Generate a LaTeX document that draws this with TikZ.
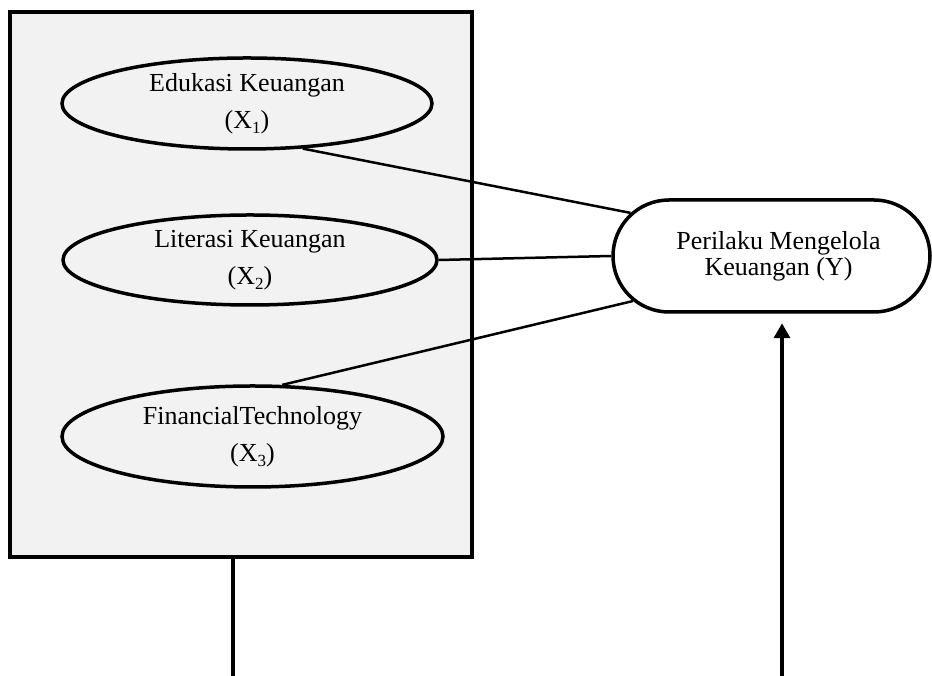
\documentclass[tikz,border=0pt]{standalone}
\usepackage{fontspec}
\setmainfont{Liberation Serif}
\usetikzlibrary{shapes.geometric,shapes.misc,arrows.meta}
\definecolor{panelgray}{HTML}{F2F2F2}
\tikzset{
	panel/.style={draw,line width=3.5pt,fill=panelgray,inner sep=0pt},%
	construct/.style={ellipse,draw,line width=3.5pt,inner sep=0pt,align=center,font=\fontsize{26}{37}\selectfont},%
	outcome/.style={rounded rectangle,draw,line width=3.5pt,fill=white,inner sep=0pt,align=center,font=\fontsize{26}{26}\selectfont},%
	link/.style={line width=2.5pt},%
	flow/.style={line width=3.5pt},%
	flowtip/.style={-{Triangle[width=16pt,length=15pt]}},%
}
\def\topangle{-39.4}
\def\bottomangle{60.9}
\newcommand{\subidx}[1]{\raisebox{-0.45ex}{\fontsize{17}{17}\selectfont #1}}

\begin{document}
\begin{tikzpicture}[%
		x=1pt,y=1pt,%
		]
		\useasboundingbox (0,0) rectangle (932,676);
		\node[panel,minimum width=462pt,minimum height=545pt] (group) at (241,391.5) {};
		\node[construct,minimum width=370pt,minimum height=91pt] (edukasi) at (247,572.5) {Edukasi Keuangan\\(X\subidx{1})};
		\node[construct,minimum width=374pt,minimum height=90pt] (literasi) at (250,416) {Literasi Keuangan\\(X\subidx{2})};
		\node[construct,minimum width=381pt,minimum height=101pt] (fintech) at (252.5,239.5) {FinancialTechnology\\(X\subidx{3})};
		\node[outcome,minimum width=317pt,minimum height=112pt] (perilaku) at (771.5,420) {\hspace*{14pt}Perilaku Mengelola\\\hspace*{14pt}Keuangan (Y)};
		\draw[link] (edukasi.\topangle) -- (perilaku.163.8);
		\draw[link] (literasi.east) -- (perilaku.west);
		\draw[link] (fintech.\bottomangle) -- (perilaku.198.7);
		\coordinate (groupfoot) at (233,0);
		\coordinate (outcomefoot) at (782,0);
		\draw[flow] (groupfoot |- group.south) -- (groupfoot);
		\draw[flow,flowtip,shorten >=9.5pt] (outcomefoot) -- (outcomefoot |- perilaku.south);
	\end{tikzpicture}
\end{document}
